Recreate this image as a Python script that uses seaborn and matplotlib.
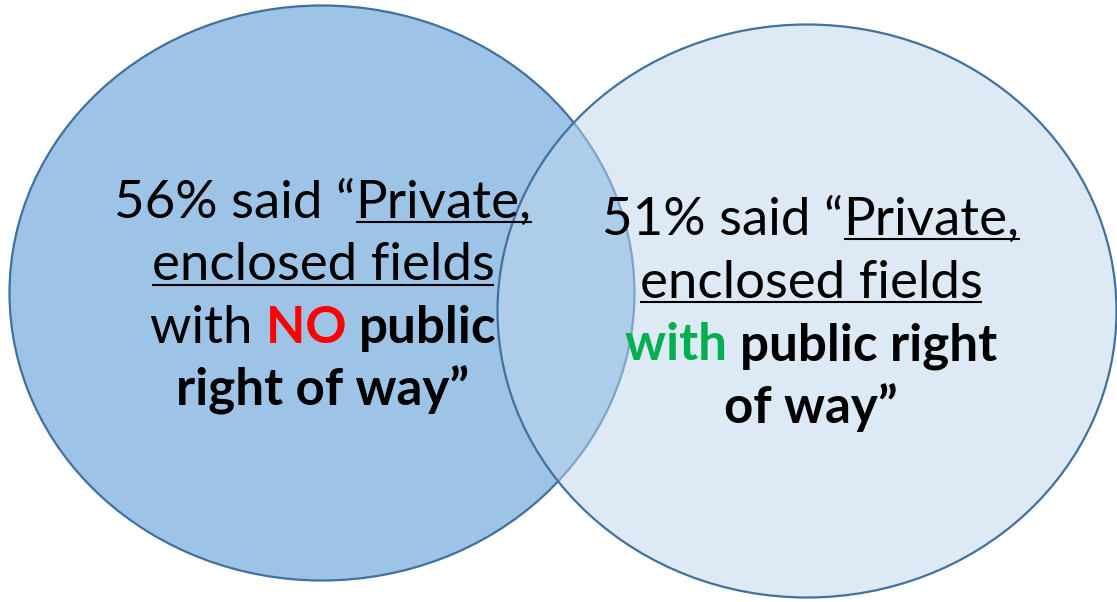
import matplotlib
matplotlib.use("Agg")
import matplotlib.pyplot as plt
from matplotlib.patches import Ellipse
import seaborn as sns

# survey results shown in the two circles
pct = [56, 51]
answers = ["Private, enclosed fields with NO public right of way",
           "Private, enclosed fields with public right of way"]

sns.set_style("white")
plt.rcParams['font.family'] = ['Lato', 'DejaVu Sans']

W, H = 1117, 602
fig = plt.figure(figsize=(W / 100, H / 100), dpi=100)
ax = fig.add_axes([0, 0, 1, 1])
ax.set_xlim(0, W)
ax.set_ylim(H, 0)
ax.axis("off")

edge = "#41719c"
ax.add_patch(Ellipse((322, 293), 625, 575, facecolor="#9dc3e6", edgecolor=edge, lw=1.6, zorder=1))
ax.add_patch(Ellipse((807, 311), 619, 573, facecolor=(189/255, 215/255, 238/255, 0.5),
                     edgecolor=edge, lw=1.6, zorder=2))

# regular text a bit larger than bold, to match the widths in the picture
SIZES = {"normal": 38, "bold": 36.8}
renderer = fig.canvas.get_renderer()


def width(s, weight):
    t = ax.text(0, 0, s + "|", fontsize=SIZES[weight], fontweight=weight)
    r = ax.text(0, 0, "|", fontsize=SIZES[weight], fontweight=weight)
    w = t.get_window_extent(renderer).width - r.get_window_extent(renderer).width
    t.remove()
    r.remove()
    return w


def draw_line(segs, cx, y):
    widths = [width(s, wt) for s, wt, c, u in segs]
    x = cx - sum(widths) / 2
    for (s, wt, c, u), w in zip(segs, widths):
        ax.text(x, y, s, fontsize=SIZES[wt], fontweight=wt, color=c, va="baseline", ha="left",
                zorder=5)
        if u:
            ax.plot([x, x + width(s.rstrip(), wt)], [y + 4, y + 4], color=c, lw=1.5, zorder=5,
                    solid_capstyle="butt")
        x += w


left_lines = [
    [(f"{pct[0]}% said \u201c", "normal", "black", False), ("Private,", "normal", "black", True)],
    [("enclosed fields", "normal", "black", True)],
    [("with ", "normal", "black", False), ("NO ", "bold", "#ff0000", False),
     ("public", "bold", "black", False)],
    [("right of way\u201d", "bold", "black", False)],
]
right_lines = [
    [(f"{pct[1]}% said \u201c", "normal", "black", False), ("Private,", "normal", "black", True)],
    [("enclosed fields", "normal", "black", True)],
    [("with ", "bold", "#00b050", False), ("public right", "bold", "black", False)],
    [("of way\u201d", "bold", "black", False)],
]

for i, segs in enumerate(left_lines):
    draw_line(segs, 323, 218 + 62.5 * i)
for i, segs in enumerate(right_lines):
    draw_line(segs, 811, 235 + 62.5 * i)

fig.savefig("out.png", dpi=100)
